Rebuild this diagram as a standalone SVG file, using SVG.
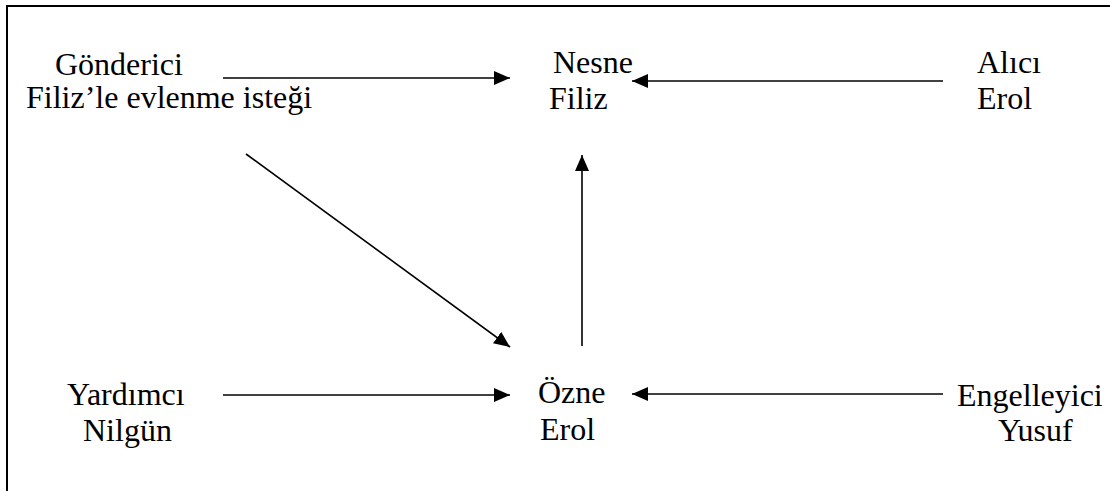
<svg xmlns="http://www.w3.org/2000/svg" width="1110" height="491" viewBox="0 0 1110 491">
  <style>
    .t { font-family: "Liberation Serif", "Times New Roman", serif; font-size: 32px; fill: #000; }
    .c { stroke: #000; stroke-width: 1.6; fill: none; }
  </style>
  <defs>
    <marker id="ah" markerUnits="userSpaceOnUse" markerWidth="18" markerHeight="14" refX="16" refY="7" orient="auto">
      <path d="M0,0 L16,7 L0,14 Z" fill="#000"/>
    </marker>
  </defs>
  <rect width="1110" height="491" fill="#fff"/>
  <path d="M7,491 V6 H1110" fill="none" stroke="#000" stroke-width="2"/>

  <g id="connectors">
    <line class="c" x1="223" y1="78" x2="510" y2="78" marker-end="url(#ah)"/>
    <line class="c" x1="943" y1="81" x2="632" y2="81" marker-end="url(#ah)"/>
    <line class="c" x1="246" y1="154" x2="510" y2="347" marker-end="url(#ah)"/>
    <line class="c" x1="582" y1="346" x2="582" y2="155" marker-end="url(#ah)"/>
    <line class="c" x1="223" y1="395" x2="510" y2="395" marker-end="url(#ah)"/>
    <line class="c" x1="943" y1="394" x2="632" y2="394" marker-end="url(#ah)"/>
  </g>

  <g id="gonderici">
    <text class="t" x="55" y="75">Gönderici</text>
    <text class="t" x="26" y="108">Filiz’le evlenme isteği</text>
  </g>
  <g id="nesne">
    <text class="t" x="553" y="73">Nesne</text>
    <text class="t" x="549" y="109">Filiz</text>
  </g>
  <g id="alici">
    <text class="t" x="977" y="73">Alıcı</text>
    <text class="t" x="977" y="109">Erol</text>
  </g>
  <g id="yardimci">
    <text class="t" x="67" y="405">Yardımcı</text>
    <text class="t" x="83" y="441">Nilgün</text>
  </g>
  <g id="ozne">
    <text class="t" x="538" y="403">Özne</text>
    <text class="t" x="540" y="440">Erol</text>
  </g>
  <g id="engelleyici">
    <text class="t" x="957" y="406">Engelleyici</text>
    <text class="t" x="998" y="441">Yusuf</text>
  </g>
</svg>
